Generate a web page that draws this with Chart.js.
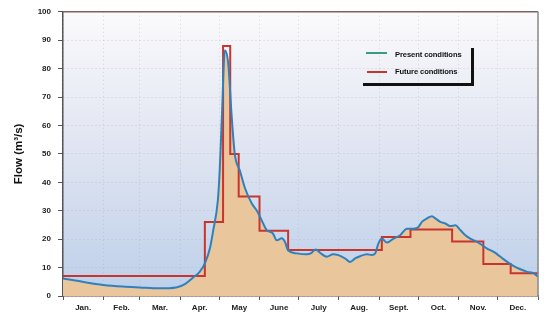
<!DOCTYPE html>
<html><head><meta charset="utf-8">
<script src="https://cdn.jsdelivr.net/npm/chart.js@4"></script>
<style>
html,body{margin:0;padding:0;background:#fff;}
#wrap{position:relative;width:547px;height:316px;overflow:hidden;}
canvas{display:block;}
.lt{position:absolute;font:bold 7.6px "Liberation Sans",Arial,sans-serif;color:#111;white-space:nowrap;line-height:8px;letter-spacing:-0.1px;}
.lb{position:absolute;}
</style></head><body>
<div id="wrap">
<canvas id="c" width="547" height="316"></canvas>
<div class="lb" style="left:366px;top:52px;width:21px;height:2px;background:#3a9a86;"></div>
<div class="lt" style="left:395px;top:51px;">Present conditions</div>
<div class="lb" style="left:367px;top:71px;width:20px;height:2px;background:#c8352c;"></div>
<div class="lt" style="left:395px;top:68px;">Future conditions</div>
<div class="lb" style="left:471px;top:48px;width:3px;height:38px;background:#111;"></div>
<div class="lb" style="left:363px;top:83px;width:111px;height:3px;background:#111;"></div>
</div>
<script>
const monthLabels = ['Jan.','Feb.','Mar.','Apr.','May','June','July','Aug.','Sept.','Oct.','Nov.','Dec.'];
const monthStarts = [0,31,59,90,120,151,181,212,243,273,304,334,365];
const yTicks = [0,10,20,30,40,50,60,70,80,90,100];

const presentDays = [0,15,31,46,59,74,87,94,100,105,109,113,115.4,119,120.5,122,124.4,127,129.5,132,136,139.8,145,149,152.6,156.5,161.3,164.2,168,170.6,172.9,179.6,187.3,191,194.2,197.5,202.7,207.5,211.6,216.8,220.6,224.5,228.3,233.5,237.3,239.9,242.4,245,248.9,254,259.1,264.3,269.4,273.2,275.8,279.7,283.5,286.1,289.9,293.8,297.6,301.5,305.3,309.2,313,318.2,322,325.9,331,336.1,341.3,346.4,351.5,356.7,361.8,365];
const presentFlow = [6.2,5.0,3.9,3.3,3.0,2.7,3.0,4.3,6.5,8.5,11.5,17,23,33.7,45,62,86.5,81.7,64,50,44,38,32.6,30,26.7,23.2,22,19.6,20.3,19,16.1,15,14.7,15.2,16.4,15.2,13.8,14.7,14.4,13.2,12,13.2,14,14.7,14.4,15,18.5,20.2,18.8,20.2,21.4,23.7,23.7,24.3,26.1,27.3,28.1,27.3,26.1,25.5,24.6,24.9,23.2,21.4,20.2,19,17.9,16.7,15.5,13.8,12,10.5,9.4,8.5,8,6.8];

const futureDays = [0,109,123,128.5,135,151,173,245,267,299,323,344,365];
const futureFlow = [7,26,88,50,35,23,16.2,20.8,23.4,19.2,11.3,8,8];

const monthMids = monthStarts.slice(0,12).map((d,i)=> (d+monthStarts[i+1])/2);
const xTickVals = monthStarts.concat(monthMids).sort((a,b)=>a-b);
const isBoundary = v => monthStarts.indexOf(v) !== -1;
const FONT = '"Liberation Sans", Arial, sans-serif';

const bgPlugin = {
  id:'bg',
  beforeDraw(chart){
    const {ctx, chartArea:a} = chart;
    const g = ctx.createLinearGradient(0,a.top,0,a.bottom);
    g.addColorStop(0,'#fbfafc');
    g.addColorStop(0.5,'#dfe4f1');
    g.addColorStop(1,'#bccfe9');
    ctx.save(); ctx.fillStyle = g;
    ctx.fillRect(a.left,a.top,a.right-a.left,a.bottom-a.top);
    ctx.restore();
  },
  afterDraw(chart){
    const {ctx, chartArea:a} = chart;
    ctx.save();
    ctx.lineWidth = 1.5;
    ctx.strokeStyle = '#7d6460';
    ctx.beginPath(); ctx.moveTo(a.left,a.top); ctx.lineTo(a.right,a.top); ctx.stroke();
    ctx.strokeStyle = '#8a8a8a';
    ctx.beginPath(); ctx.moveTo(a.right,a.top); ctx.lineTo(a.right,a.bottom); ctx.stroke();
    ctx.restore();
  }
};

new Chart(document.getElementById('c'), {
  type:'line',
  data:{
    datasets:[
      {
        label:'Present conditions',
        data: presentDays.map((d,i)=>({x:d,y:presentFlow[i]})),
        borderColor:'#2f80bd', borderWidth:2, pointRadius:0,
        cubicInterpolationMode:'monotone',
        fill:'origin', backgroundColor:'#e9c69c'
      },
      {
        label:'Future conditions',
        data: futureDays.map((d,i)=>({x:d,y:futureFlow[i]})),
        borderColor:'#c8352c', borderWidth:2, pointRadius:0,
        stepped:'before', fill:false
      }
    ]
  },
  options:{
    responsive:false, animation:false, devicePixelRatio:1,
    layout:{padding:{top:11,right:9,left:0,bottom:0}},
    plugins:{legend:{display:false}, tooltip:{enabled:false}, filler:{drawTime:'beforeDatasetsDraw'}},
    scales:{
      x:{
        type:'linear', min:0, max:365,
        afterBuildTicks(s){ s.ticks = xTickVals.map(v=>({value:v})); },
        afterFit(s){ s.height = 20; },
        ticks:{
          autoSkip:false, maxRotation:0, minRotation:0, padding:3,
          color:'#222', font:{family:FONT, size:8, weight:'bold'},
          callback(v){ const i = monthMids.indexOf(v); return i>=0 ? monthLabels[i] : ''; }
        },
        grid:{
          color: c => isBoundary(c.tick && c.tick.value) ? 'rgba(160,160,180,0.4)' : 'rgba(0,0,0,0)',
          tickColor: c => isBoundary(c.tick && c.tick.value) ? '#555' : 'rgba(0,0,0,0)',
          tickLength:4, lineWidth:1
        },
        border:{display:true, color:'#6b4a3a', width:1.5, dash:[1,3]}
      },
      y:{
        min:0, max:100,
        afterBuildTicks(s){ s.ticks = yTicks.map(v=>({value:v})); },
        afterFit(s){ s.width = 63; },
        ticks:{
          padding:7, color:'#222',
          font:{family:FONT, size:8, weight:'bold'}
        },
        grid:{color:'rgba(160,160,180,0.45)', tickColor:'#555', tickLength:5, lineWidth:1},
        border:{display:true, color:'#555', width:1.5, dash:[1,3]},
        title:{display:true, text:'Flow (m³/s)', color:'#111',
          font:{family:FONT, size:11.5, weight:'bold'},
          padding:{top:12,bottom:0}}
      }
    }
  },
  plugins:[bgPlugin]
});
</script>
</body></html>
